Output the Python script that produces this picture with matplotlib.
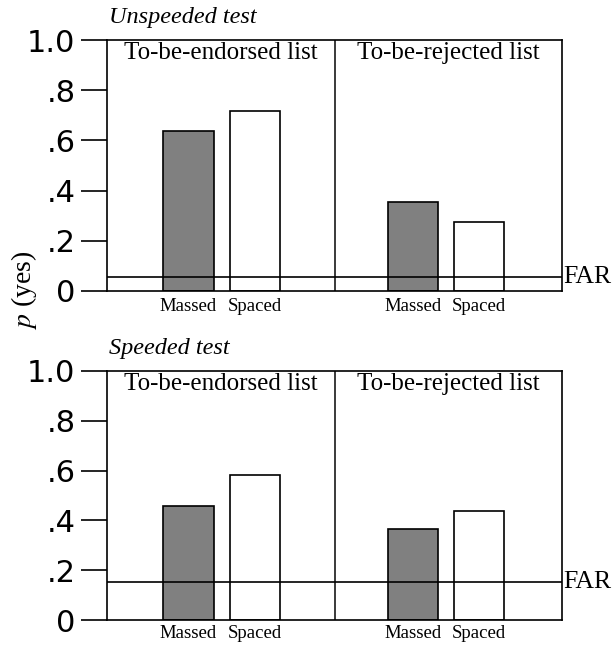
import matplotlib
matplotlib.use("Agg")
import matplotlib.pyplot as plt
import numpy as np

# ---- data ----
panel_titles = ["Unspeeded test", "Speeded test"]
list_labels = ["To-be-endorsed list", "To-be-rejected list"]
conditions = ["Massed", "Spaced"]
unspeeded_massed = [0.637, 0.355]
unspeeded_spaced = [0.716, 0.276]
speeded_massed = [0.458, 0.365]
speeded_spaced = [0.584, 0.439]
far_values = [0.055, 0.153]
ytick_values = [0, 0.2, 0.4, 0.6, 0.8, 1.0]
ytick_labels = ["0", ".2", ".4", ".6", ".8", "1.0"]

massed_all = [unspeeded_massed, speeded_massed]
spaced_all = [unspeeded_spaced, speeded_spaced]

W, H = 612, 646
fig = plt.figure(figsize=(W / 100, H / 100), dpi=100)

serif = "Liberation Serif"
sans = "DejaVu Sans"

# pixel boxes: left, right, top, bottom
left_px, right_px = 107, 562
boxes = [(40, 291), (371, 620)]
xpads = [5, 3.5]

group_centers = [0.252, 0.745]
offset = 0.073
bar_w = 0.111
lw = 1.2

for i, (top_px, bot_px) in enumerate(boxes):
    ax = fig.add_axes([left_px / W, 1 - bot_px / H,
                       (right_px - left_px) / W, (bot_px - top_px) / H])
    ax.set_xlim(0, 1)
    ax.set_ylim(0, 1)
    mx = [c - offset for c in group_centers]
    sx = [c + offset for c in group_centers]
    ax.bar(mx, massed_all[i], width=bar_w, color="#808080",
           edgecolor="black", linewidth=lw, zorder=2)
    ax.bar(sx, spaced_all[i], width=bar_w, color="white",
           edgecolor="black", linewidth=lw, zorder=2)
    ax.axvline(0.5, color="black", linewidth=lw * 0.9, zorder=3)
    ax.axhline(far_values[i], color="black", linewidth=lw, zorder=3)
    ax.text(1.003, far_values[i], "FAR", transform=ax.get_yaxis_transform(),
            ha="left", va="center", fontsize=18.5, family=serif)

    for sp in ax.spines.values():
        sp.set_linewidth(lw)
    ax.set_yticks(ytick_values)
    ax.set_yticklabels(ytick_labels, fontsize=22, family=sans)
    ax.tick_params(axis="y", length=18.7, width=lw, pad=4)

    ticks_x = [mx[0], sx[0], mx[1], sx[1]]
    ax.set_xticks(ticks_x)
    ax.set_xticklabels(conditions * 2, fontsize=13.5, family=serif)
    ax.tick_params(axis="x", length=0, pad=xpads[i])

    for g, lab in enumerate(list_labels):
        ax.text(0.25 + 0.5 * g, 1 - 19 / (bot_px - top_px), lab,
                ha="center", va="baseline", fontsize=18, family=serif,
                transform=ax.transAxes)

    ax.text(0.005, 1 + 17 / (bot_px - top_px), panel_titles[i],
            ha="left", va="baseline", fontsize=17.5, family=serif,
            style="italic", transform=ax.transAxes)

fig.text(24 / W, 1 - 290 / H, r"$p$ (yes)", rotation=90, ha="center",
         va="center", fontsize=20, family=serif,
         math_fontfamily="stix")

fig.savefig("out.png", dpi=100)
